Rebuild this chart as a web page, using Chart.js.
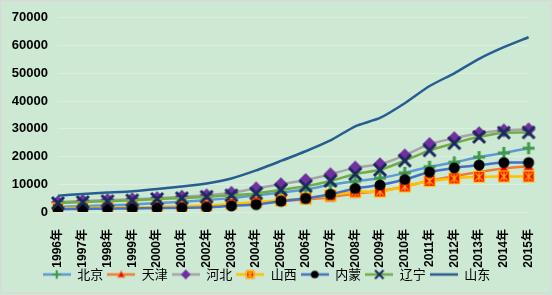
<!DOCTYPE html>
<html><head><meta charset="utf-8">
<script src="https://cdn.jsdelivr.net/npm/chart.js@4"></script>
<style>html,body{margin:0;padding:0;background:#fff}#w{width:552px;height:295px}</style>
</head><body><div id="w"><canvas id="c" width="552" height="295"></canvas></div>
<script>
const categories = ['1996年','1997年','1998年','1999年','2000年','2001年','2002年','2003年','2004年','2005年','2006年','2007年','2008年','2009年','2010年','2011年','2012年','2013年','2014年','2015年'];
const seriesNames = ['北京','天津','河北','山西','内蒙','辽宁','山东'];
const beijing  = [1800,2100,2400,2700,3200,3700,4300,5000,6000,7000,8100,9800,11100,12200,14100,16300,17900,19800,21300,23000];
const tianjin  = [1100,1300,1400,1500,1700,1900,2200,2600,3100,3900,4500,5300,6700,7500,9200,11300,12900,14400,15700,16500];
const hebei    = [3500,4000,4300,4600,5000,5500,6000,6900,8500,10000,11500,13600,16000,17200,20400,24500,26600,28400,29400,29800];
const shanxi   = [1300,1500,1600,1700,1800,2000,2300,2900,3600,4200,4900,6000,7300,7400,9200,11200,12100,12700,12800,12800];
const neimeng  = [1000,1100,1200,1300,1400,1500,1700,2200,2700,3900,4900,6400,8500,9700,11700,14400,15900,16900,17800,17800];
const liaoning = [3200,3600,3900,4200,4700,5000,5500,6000,6700,8000,9300,11200,13700,15200,18500,22200,24800,27100,28600,28700];
const shandong = [5900,6500,7000,7500,8300,9200,10300,12100,15000,18400,21900,25800,30900,33900,39200,45400,50000,55200,59400,63000];
const yTicks = [0,10000,20000,30000,40000,50000,60000,70000];

const lineColors = ['#5B9BD5','#ED7D31','#A5A5A5','#FFC000','#4472C4','#70AD47','#255E91'];

function mk(w,h,fn){const c=document.createElement('canvas');c.width=w;c.height=h;const x=c.getContext('2d');fn(x,w,h);return c;}
function plus(x,cx,cy,r,lw,col){x.strokeStyle=col;x.lineWidth=lw;x.beginPath();x.moveTo(cx-r,cy);x.lineTo(cx+r,cy);x.moveTo(cx,cy-r);x.lineTo(cx,cy+r);x.stroke();}
function tri(x,cx,cy,r,fill,stroke){x.fillStyle=fill;x.strokeStyle=stroke;x.lineWidth=1;x.beginPath();x.moveTo(cx,cy-r);x.lineTo(cx+r,cy+r*0.8);x.lineTo(cx-r,cy+r*0.8);x.closePath();x.fill();x.stroke();}
function diamond(x,cx,cy,r,col){x.fillStyle=col;x.beginPath();x.moveTo(cx,cy-r);x.lineTo(cx+r,cy);x.lineTo(cx,cy+r);x.lineTo(cx-r,cy);x.closePath();x.fill();}
function sq(x,cx,cy,r){x.fillStyle='#FF0000';x.fillRect(cx-r,cy-r,2*r,2*r);x.strokeStyle='#FFC000';x.lineWidth=1.2;x.strokeRect(cx-r+0.6,cy-r+0.6,2*r-1.2,2*r-1.2);x.beginPath();x.moveTo(cx-r*0.6,cy-r*0.6);x.lineTo(cx+r*0.6,cy+r*0.6);x.moveTo(cx+r*0.6,cy-r*0.6);x.lineTo(cx-r*0.6,cy+r*0.6);x.moveTo(cx,cy-r*0.7);x.lineTo(cx,cy+r*0.7);x.stroke();}
function circ(x,cx,cy,r){x.fillStyle='#000';x.beginPath();x.arc(cx,cy,r,0,Math.PI*2);x.fill();}
function cross(x,cx,cy,r,lw){x.strokeStyle='#1B2A5E';x.lineWidth=lw;x.beginPath();x.moveTo(cx-r,cy-r);x.lineTo(cx+r,cy+r);x.moveTo(cx+r,cy-r);x.lineTo(cx-r,cy+r);x.stroke();}

const markerDraw = [
  (x,cx,cy,s)=>plus(x,cx,cy,6*s,3*s,'#3F9A4B'),
  (x,cx,cy,s)=>tri(x,cx,cy,5*s,'#FF0000','#ED7D31'),
  (x,cx,cy,s)=>diamond(x,cx,cy,7*s,'#7030A0'),
  (x,cx,cy,s)=>sq(x,cx,cy,6*s),
  (x,cx,cy,s)=>circ(x,cx,cy,5.5*s),
  (x,cx,cy,s)=>cross(x,cx,cy,6*s,3*s),
  null
];
const pointImgs = markerDraw.map(f=>f?mk(16,16,(x,w,h)=>f(x,8,8,1)):false);
const legendImgs = markerDraw.map((f,i)=>mk(28,12,(x,w,h)=>{
  x.strokeStyle=lineColors[i];x.lineWidth=2.5;x.beginPath();x.moveTo(0,6);x.lineTo(28,6);x.stroke();
  if(f) f(x,14,6,0.7);
}));

const seriesData=[beijing,tianjin,hebei,shanxi,neimeng,liaoning,shandong];
const datasets = seriesNames.map((n,i)=>({
  label:n,data:seriesData[i],borderColor:lineColors[i],backgroundColor:lineColors[i],
  borderWidth:2.5,tension:0.2,
  pointStyle:pointImgs[i]||'circle',pointRadius:i===6?0:6,pointHoverRadius:i===6?0:6,
  order:7-i
}));

const bgPlugin={id:'bg',beforeDraw(ch){const c=ch.ctx;c.save();c.fillStyle='#CDE8D3';c.fillRect(0,0,552,295);c.strokeStyle='#D9D9D9';c.lineWidth=1.5;c.strokeRect(0.75,0.75,550,292);c.restore();}};

new Chart(document.getElementById('c'),{
  type:'line',
  data:{labels:categories,datasets},
  plugins:[bgPlugin],
  options:{
    responsive:false,animation:false,
    layout:{padding:{top:16,right:19,bottom:4,left:0}},
    plugins:{
      tooltip:{enabled:false},
      legend:{position:'bottom',
        labels:{usePointStyle:true,pointStyleWidth:28,padding:4,color:'#000',
          font:{family:"'Noto Sans CJK SC'",size:13},
          generateLabels(ch){return ch.data.datasets.map((d,i)=>({text:d.label,pointStyle:legendImgs[i],fillStyle:'transparent',strokeStyle:'transparent',lineWidth:0,datasetIndex:i,hidden:false,fontColor:'#000'}));}
        }}
    },
    scales:{
      x:{grid:{display:false},border:{display:false},
        ticks:{minRotation:90,maxRotation:90,padding:9,color:'#000',autoSkip:false,font:{family:"'Liberation Sans','Noto Sans CJK SC'",size:12,weight:'bold'}},
        afterFit(s){s.height=52;s._computeLabelArea=function(){return undefined;};}},
      y:{min:0,max:70000,border:{display:false},
        grid:{color:'#DDEDE1',lineWidth:1,drawTicks:false},
        afterBuildTicks(s){s.ticks=yTicks.map(v=>({value:v}));},
        ticks:{padding:10,color:'#000',callback:v=>String(v),font:{family:"'Liberation Sans'",size:13,weight:'bold'}},
        afterFit(s){s.width=58;}}
    }
  }
});
</script></body></html>
